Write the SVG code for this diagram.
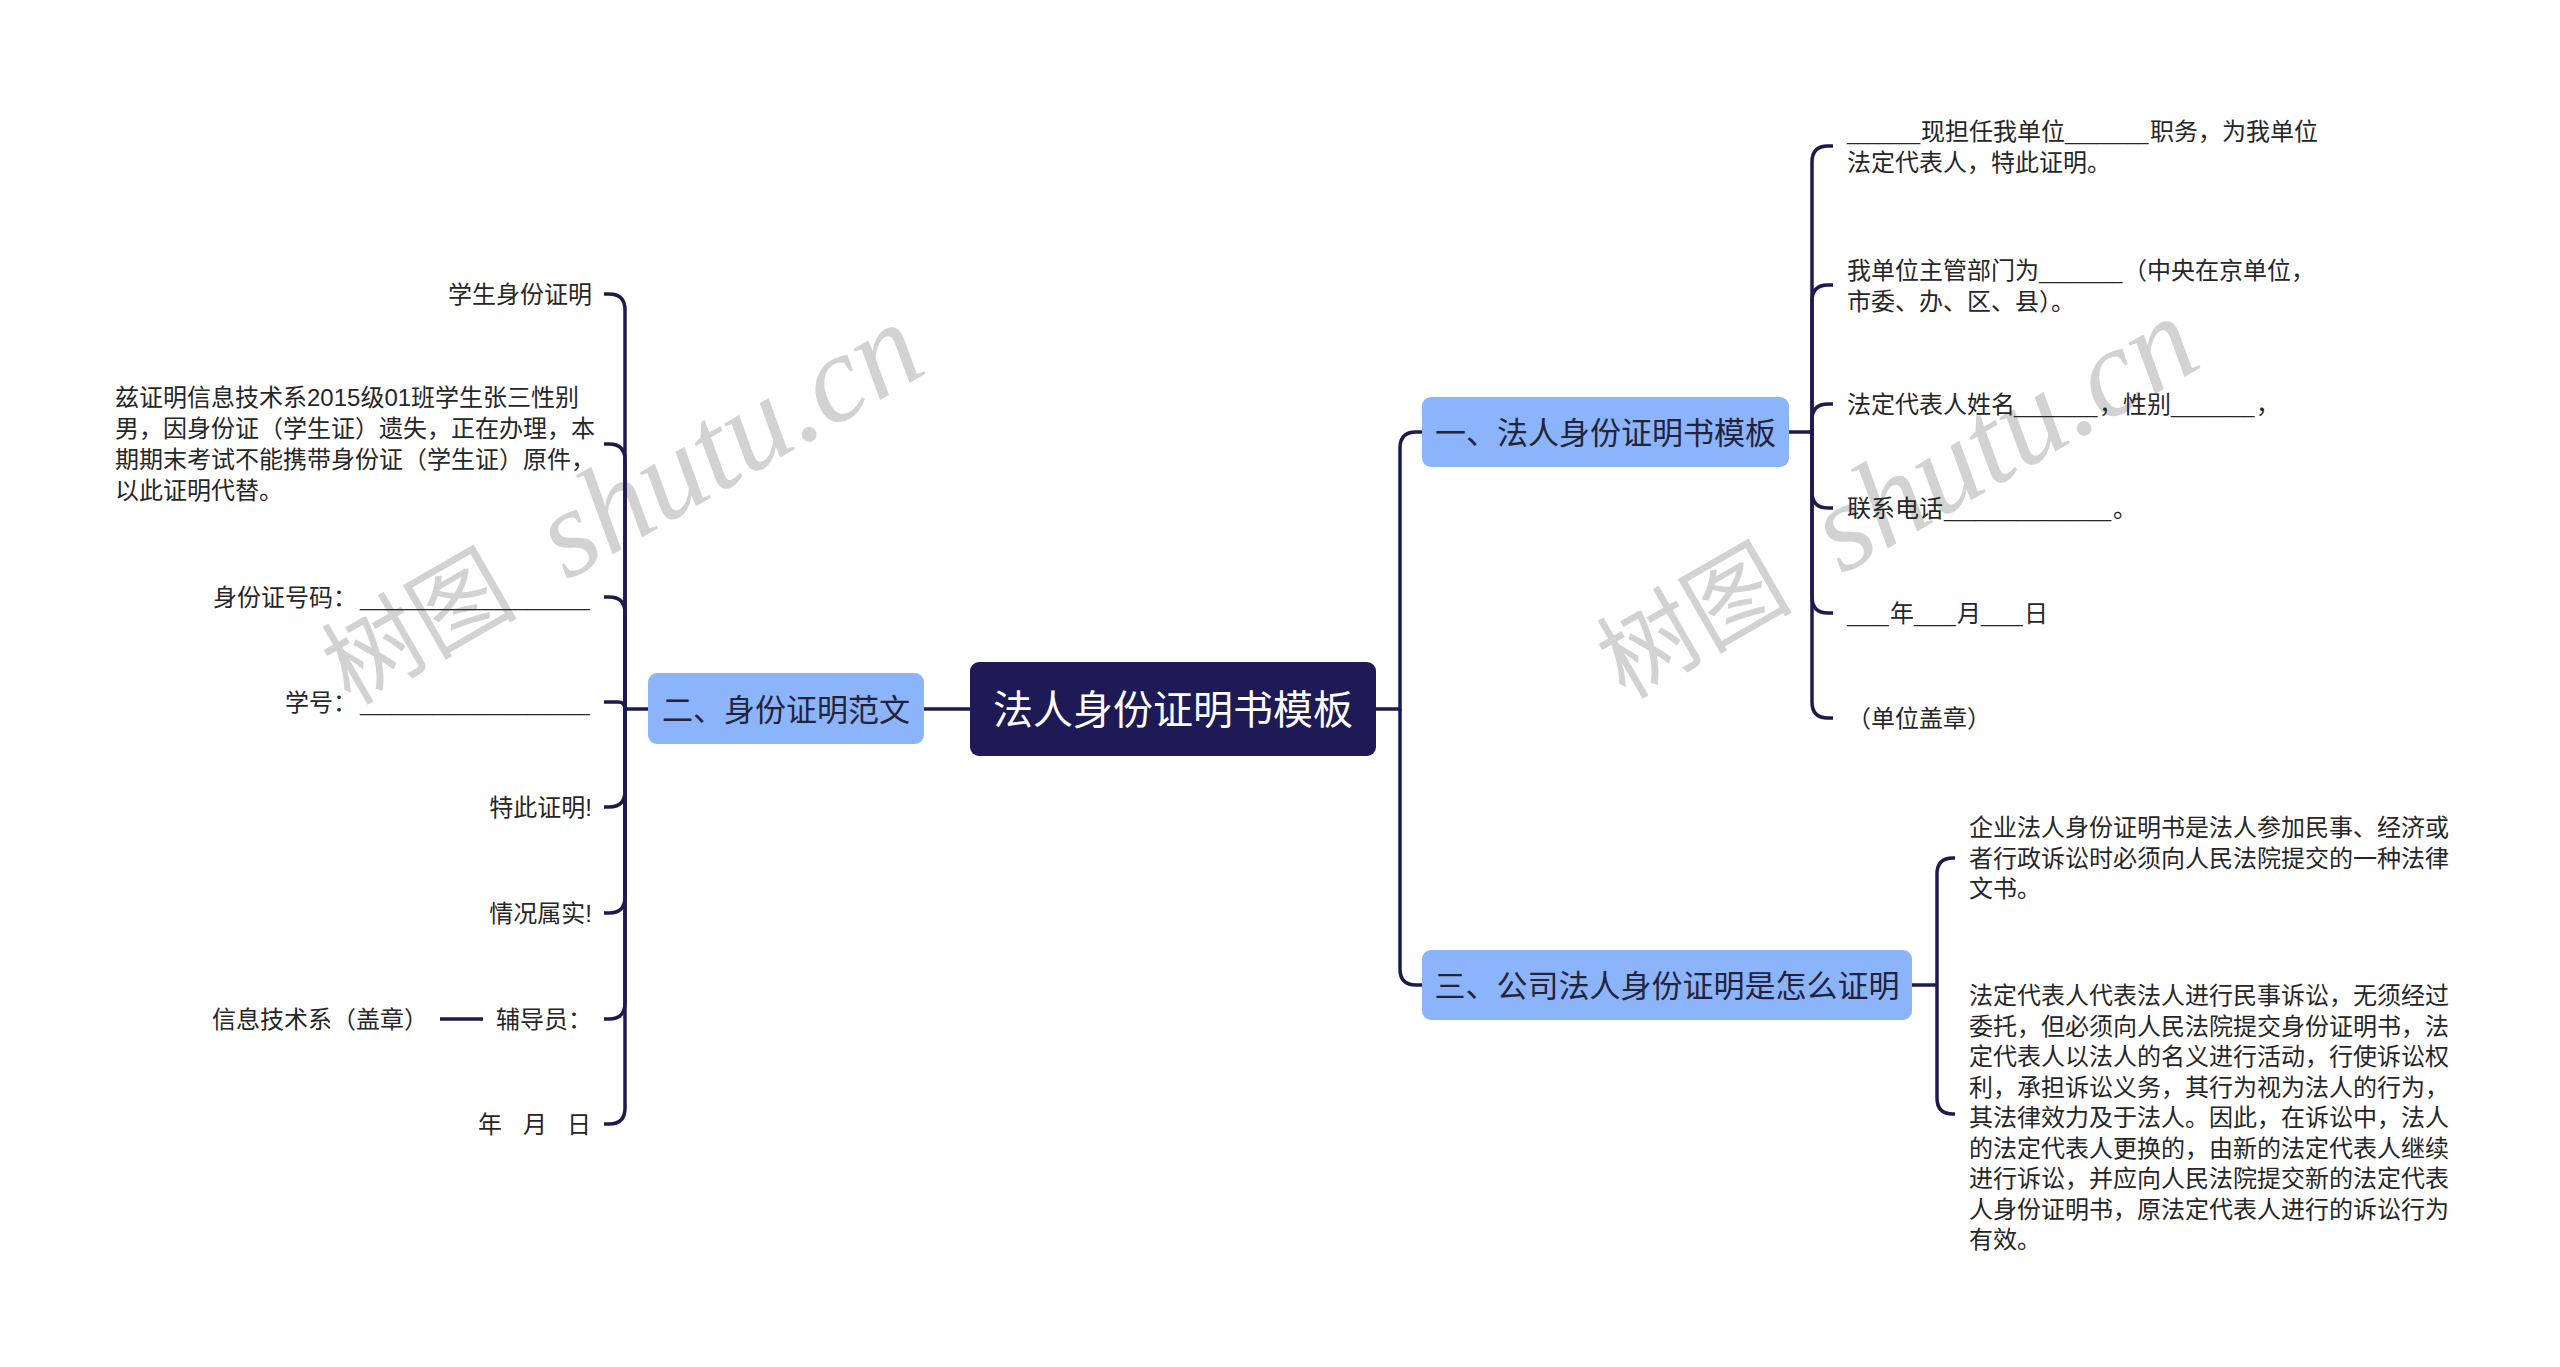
<svg xmlns="http://www.w3.org/2000/svg" width="2560" height="1367" viewBox="0 0 2560 1367">
<style>
text{font-family:"Liberation Sans","Noto Sans CJK SC",sans-serif;}
.leaf{font-size:24px;fill:#262626;}
.u{font-size:18.8px;}
.btext{font-size:31px;fill:#23233a;}
.rtext{font-size:40px;fill:#ffffff;}
.branch{fill:#8cb4fa;}
.root{fill:#1d1a55;}
.conn{fill:none;stroke:#1c1b4e;stroke-width:3.5;}
.wm{font-family:"Liberation Serif","Noto Sans CJK SC",serif;fill:#d2d2d2;}
</style>
<rect width="2560" height="1367" fill="#ffffff"/>
<g id="watermarks">
<text class="wm" transform="translate(350,706) rotate(-30)"><tspan font-size="98">树图 </tspan><tspan x="250" font-size="125" font-style="italic">shutu.cn</tspan></text>
<text class="wm" transform="translate(1625,700) rotate(-30)"><tspan font-size="98">树图 </tspan><tspan x="250" font-size="125" font-style="italic">shutu.cn</tspan></text>
</g>
<g id="connectors">
<path class="conn" d="M1376,709 H1400 V448 Q1400,432 1416,432 H1422"/>
<path class="conn" d="M1400,709 V969 Q1400,985 1416,985 H1422"/>
<path class="conn" d="M970,709 H924"/>
<path class="conn" d="M648,709 H625"/>
<path class="conn" d="M625,709 V310 Q625,294 609,294 H604"/>
<path class="conn" d="M625,709 V460 Q625,444 609,444 H604"/>
<path class="conn" d="M625,709 V613 Q625,597 609,597 H604"/>
<path class="conn" d="M625,709 Q625,702 618,702 H604"/>
<path class="conn" d="M625,709 V791 Q625,807 609,807 H604"/>
<path class="conn" d="M625,709 V897 Q625,913 609,913 H604"/>
<path class="conn" d="M625,709 V1003 Q625,1019 609,1019 H604"/>
<path class="conn" d="M625,709 V1108 Q625,1124 609,1124 H604"/>
<path class="conn" d="M483,1019 H440"/>
<path class="conn" d="M1789,432 H1812"/>
<path class="conn" d="M1812,432 V162 Q1812,146 1828,146 H1833"/>
<path class="conn" d="M1812,432 V301 Q1812,285 1828,285 H1833"/>
<path class="conn" d="M1812,432 V420 Q1812,404 1828,404 H1833"/>
<path class="conn" d="M1812,432 V492 Q1812,508 1828,508 H1833"/>
<path class="conn" d="M1812,432 V597 Q1812,613 1828,613 H1833"/>
<path class="conn" d="M1812,432 V702 Q1812,718 1828,718 H1833"/>
<path class="conn" d="M1912,985 H1937"/>
<path class="conn" d="M1937,985 V874 Q1937,858 1953,858 H1955"/>
<path class="conn" d="M1937,985 V1098 Q1937,1114 1953,1114 H1955"/>
</g>
<g id="root">
<rect class="root" x="970" y="662" width="406" height="94" rx="9"/>
<text class="rtext" x="1173" y="724" text-anchor="middle">法人身份证明书模板</text>
</g>
<g id="branch-2">
<rect class="branch" x="648" y="673" width="276" height="71" rx="9"/>
<text class="btext" x="786" y="720.5" text-anchor="middle">二、身份证明范文</text>
</g>
<g id="branch-1">
<rect class="branch" x="1422" y="397" width="367" height="70" rx="9"/>
<text class="btext" x="1605.5" y="444" text-anchor="middle">一、法人身份证明书模板</text>
</g>
<g id="branch-3">
<rect class="branch" x="1422" y="950" width="490" height="70" rx="9"/>
<text class="btext" x="1667" y="997" text-anchor="middle">三、公司法人身份证明是怎么证明</text>
</g>
<g id="leaf-l1"><text class="leaf" x="592" y="303" text-anchor="end">学生身份证明</text></g>
<g id="leaf-l2"><text class="leaf" x="115" y="406"><tspan x="115" y="406">兹证明信息技术系2015级01班学生张三性别</tspan><tspan x="115" y="437">男，因身份证（学生证）遗失，正在办理，本</tspan><tspan x="115" y="468">期期末考试不能携带身份证（学生证）原件，</tspan><tspan x="115" y="499">以此证明代替。</tspan></text></g>
<g id="leaf-l3"><text class="leaf" y="606"><tspan x="213">身份证号码：</tspan><tspan class="u" x="360">______________________</tspan></text></g>
<g id="leaf-l4"><text class="leaf" y="711"><tspan x="285">学号：</tspan><tspan class="u" x="360">______________________</tspan></text></g>
<g id="leaf-l5"><text class="leaf" x="592" y="816" text-anchor="end">特此证明!</text></g>
<g id="leaf-l6"><text class="leaf" x="592" y="922" text-anchor="end">情况属实!</text></g>
<g id="leaf-l7"><text class="leaf" x="592" y="1028" text-anchor="end">辅导员：</text></g>
<g id="leaf-l7a"><text class="leaf" x="212" y="1028">信息技术系（盖章）</text></g>
<g id="leaf-l8"><text class="leaf" y="1133"><tspan x="478">年</tspan> <tspan x="523">月</tspan> <tspan x="567">日</tspan></text></g>
<g id="leaf-r1"><text class="leaf" y="140"><tspan class="u" x="1847">_______</tspan><tspan x="1921">现担任我单位</tspan><tspan class="u" x="2065">________</tspan><tspan x="2150">职务，为我单位</tspan><tspan x="1847" y="171">法定代表人，特此证明。</tspan></text></g>
<g id="leaf-r2"><text class="leaf" y="279"><tspan x="1847">我单位主管部门为</tspan><tspan class="u" x="2039">________</tspan><tspan x="2123">（中央在京单位，</tspan><tspan x="1847" y="310">市委、办、区、县）。</tspan></text></g>
<g id="leaf-r3"><text class="leaf" y="413"><tspan x="1847">法定代表人姓名</tspan><tspan class="u" x="2014">________</tspan><tspan x="2099">，性别</tspan><tspan class="u" x="2171">________</tspan><tspan x="2256">，</tspan></text></g>
<g id="leaf-r4"><text class="leaf" y="517"><tspan x="1847">联系电话</tspan><tspan class="u" x="1944">________________</tspan><tspan x="2113">。</tspan></text></g>
<g id="leaf-r5"><text class="leaf" y="622"><tspan class="u" x="1847">____</tspan><tspan x="1890">年</tspan><tspan class="u" x="1914">____</tspan><tspan x="1957">月</tspan><tspan class="u" x="1981">____</tspan><tspan x="2024">日</tspan></text></g>
<g id="leaf-r6"><text class="leaf" x="1847" y="727">（单位盖章）</text></g>
<g id="leaf-r7"><text class="leaf"><tspan x="1969" y="836">企业法人身份证明书是法人参加民事、经济或</tspan><tspan x="1969" y="866.5">者行政诉讼时必须向人民法院提交的一种法律</tspan><tspan x="1969" y="897">文书。</tspan></text></g>
<g id="leaf-r8"><text class="leaf"><tspan x="1969" y="1004">法定代表人代表法人进行民事诉讼，无须经过</tspan><tspan x="1969" y="1034.5">委托，但必须向人民法院提交身份证明书，法</tspan><tspan x="1969" y="1065">定代表人以法人的名义进行活动，行使诉讼权</tspan><tspan x="1969" y="1095.5">利，承担诉讼义务，其行为视为法人的行为，</tspan><tspan x="1969" y="1126">其法律效力及于法人。因此，在诉讼中，法人</tspan><tspan x="1969" y="1156.5">的法定代表人更换的，由新的法定代表人继续</tspan><tspan x="1969" y="1187">进行诉讼，并应向人民法院提交新的法定代表</tspan><tspan x="1969" y="1217.5">人身份证明书，原法定代表人进行的诉讼行为</tspan><tspan x="1969" y="1248">有效。</tspan></text></g>
</svg>
